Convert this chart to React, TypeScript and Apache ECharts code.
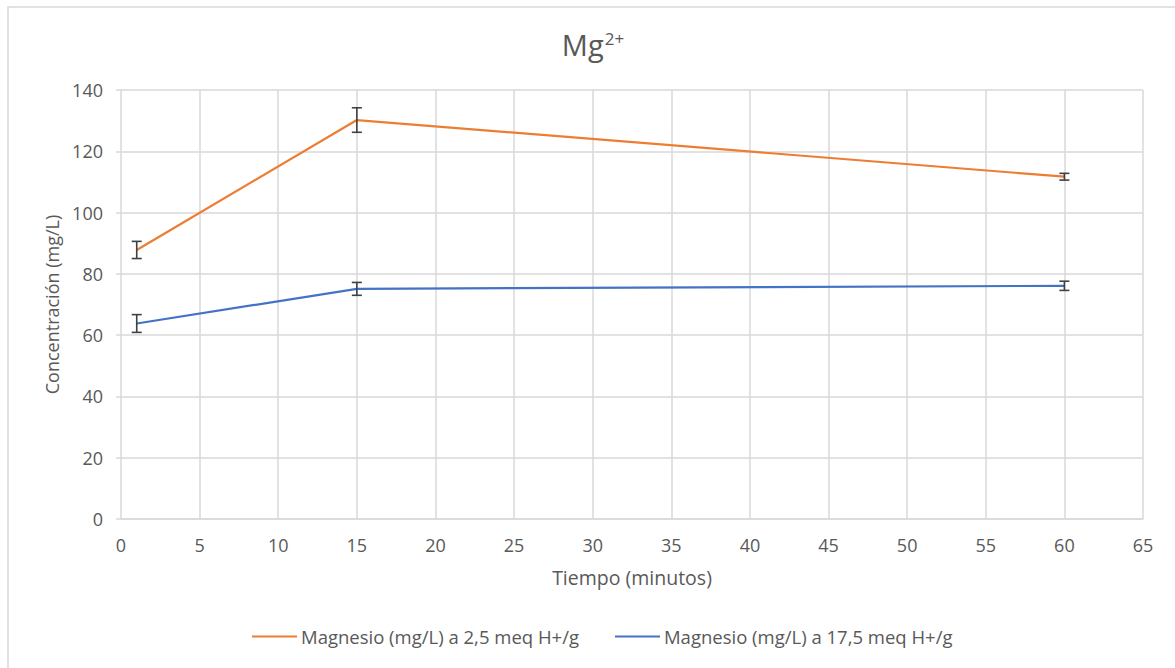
import React, { useEffect, useRef } from "react";
import * as echarts from "echarts";

const seriesNames = ["Magnesio (mg/L) a 2,5 meq H+/g", "Magnesio (mg/L) a 17,5 meq H+/g"];
const times = [1, 15, 60];
const values25 = [87.8, 130.2, 111.7];
const errors25 = [2.8, 4.0, 1.1];
const values175 = [63.8, 75.1, 76.1];
const errors175 = [2.9, 2.1, 1.5];
const colors = ["#ED7D31", "#4472C4"];

const FONT = "'Open Sans', 'Noto Sans', sans-serif";
const TXT = "#595959";

function errData(vals: number[], errs: number[]) {
  return times.map((t, i) => [t, vals[i] - errs[i], vals[i] + errs[i]]);
}

function renderErr(params: any, api: any) {
  const x = api.value(0);
  const lo = api.coord([x, api.value(1)]);
  const hi = api.coord([x, api.value(2)]);
  const w = 5;
  const style = { stroke: "#404040", lineWidth: 1.6 };
  return {
    type: "group",
    children: [
      { type: "line", shape: { x1: lo[0], y1: lo[1], x2: hi[0], y2: hi[1] }, style },
      { type: "line", shape: { x1: lo[0] - w, y1: lo[1], x2: lo[0] + w, y2: lo[1] }, style },
      { type: "line", shape: { x1: hi[0] - w, y1: hi[1], x2: hi[0] + w, y2: hi[1] }, style },
    ],
  };
}

export default function App() {
  const ref = useRef<HTMLDivElement>(null);
  useEffect(() => {
    document.body.style.margin = "0";
    const chart = echarts.init(ref.current!, null, { renderer: "svg" });
    chart.setOption({
      animation: false,
      backgroundColor: "#ffffff",
      textStyle: { fontFamily: FONT },
      graphic: [
        {
          type: "rect",
          shape: { x: 8, y: 7, width: 1200, height: 700 },
          style: { fill: "none", stroke: "#d9d9d9", lineWidth: 1.5 },
          silent: true,
          z: -10,
        },
      ],
      title: {
        text: "{a|Mg}{b|2+}",
        left: 588,
        textAlign: "center",
        top: 25,
        textStyle: {
          rich: {
            a: { fontSize: 29, color: TXT, fontFamily: FONT, fontWeight: "normal" },
            b: { fontSize: 17, color: TXT, fontFamily: FONT, fontWeight: "normal", verticalAlign: "top", padding: [0, 0, 0, 1] },
          },
        },
      },
      legend: {
        top: 622,
        left: 247,
        itemWidth: 45,
        itemHeight: 2,
        itemGap: 36,
        icon: "rect",
        textStyle: { fontSize: 18.5, color: TXT, fontFamily: FONT, padding: [0, 0, 0, -1] },
        data: seriesNames,
      },
      grid: { left: 121, right: 32, top: 90, bottom: 149 },
      xAxis: {
        type: "value",
        min: 0,
        max: 65,
        interval: 5,
        name: "Tiempo (minutos)",
        nameLocation: "middle",
        nameGap: 48,
        nameTextStyle: { fontSize: 19.5, color: TXT },
        axisLine: { show: true, lineStyle: { color: "#d9d9d9", width: 1.5 } },
        axisTick: { show: false },
        axisLabel: { fontSize: 18, color: TXT, margin: 17 },
        splitLine: { show: true, lineStyle: { color: "#d9d9d9", width: 1.5 } },
      },
      yAxis: {
        type: "value",
        min: 0,
        max: 140,
        interval: 20,
        name: "Concentración (mg/L)",
        nameLocation: "middle",
        nameGap: 60,
        nameTextStyle: { fontSize: 18, color: TXT },
        axisLine: { show: false },
        axisTick: { show: true, length: 5, lineStyle: { color: "#d9d9d9", width: 1.5 } },
        axisLabel: { fontSize: 18, color: TXT, margin: 18 },
        splitLine: { show: true, lineStyle: { color: "#d9d9d9", width: 1.5 } },
      },
      series: [
        {
          name: seriesNames[0],
          type: "line",
          data: times.map((t, i) => [t, values25[i]]),
          showSymbol: false,
          symbol: "none",
          lineStyle: { color: colors[0], width: 2.2 },
          itemStyle: { color: colors[0] },
        },
        {
          name: seriesNames[1],
          type: "line",
          data: times.map((t, i) => [t, values175[i]]),
          showSymbol: false,
          symbol: "none",
          lineStyle: { color: colors[1], width: 2.2 },
          itemStyle: { color: colors[1] },
        },
        {
          type: "custom",
          name: "err25",
          data: errData(values25, errors25),
          renderItem: renderErr,
          z: 5,
          silent: true,
        },
        {
          type: "custom",
          name: "err175",
          data: errData(values175, errors175),
          renderItem: renderErr,
          z: 5,
          silent: true,
        },
      ],
    });
    return () => chart.dispose();
  }, []);
  return <div ref={ref} style={{ width: 1175, height: 668 }} />;
}
